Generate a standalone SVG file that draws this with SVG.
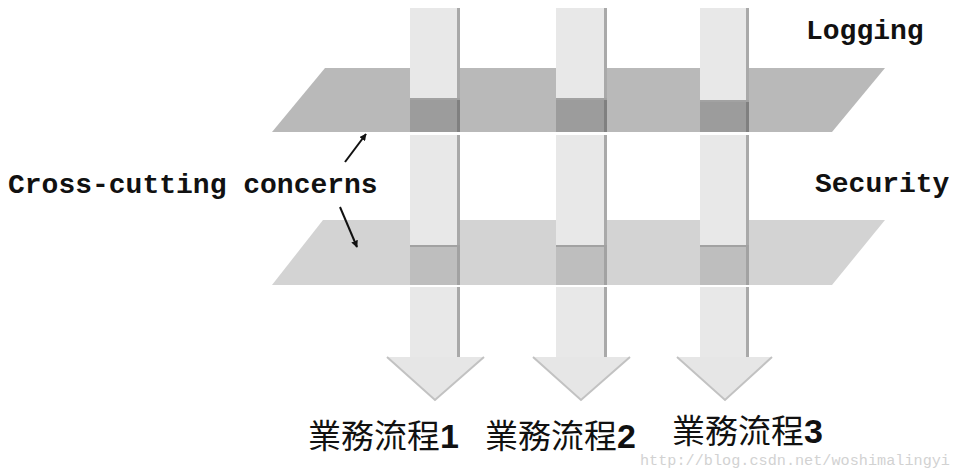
<svg xmlns="http://www.w3.org/2000/svg" width="960" height="469" viewBox="0 0 960 469">
<defs>
<style>
.plane1{fill:#b9b9b9}
.plane2{fill:#d3d3d3}
.col{fill:#e8e8e8}
.dk1{fill:#9c9c9c}
.dk2{fill:#bebebe}
.edge{fill:#a9a9a9}
.edgeD{fill:#808080}
.edgeD2{fill:#a2a2a2}
.head{fill:#e6e6e6}
.hshade{fill:none;stroke:#c2c2c2;stroke-width:2}
.mono{font-family:"Liberation Mono","Courier New",monospace;font-weight:bold;font-size:28px;fill:#111}
.cjk{font-family:"Noto Sans CJK TC","Noto Sans CJK JP",sans-serif;font-size:33px;fill:#111}
.dig{font-family:"Liberation Sans",Arial,sans-serif;font-weight:bold;font-size:34px}
.wm{font-family:"Liberation Mono","Courier New",monospace;font-size:14px;fill:#d2d2d2}
.conn{stroke:#111;stroke-width:2;fill:none}
</style>
<marker id="ah" viewBox="0 0 10 10" refX="9" refY="5" markerWidth="7" markerHeight="7" orient="auto" markerUnits="userSpaceOnUse">
<path d="M0,0 L10,5 L0,10 z" fill="#111"/>
</marker>
</defs>
<rect width="960" height="469" fill="#fff"/>

<g id="plane-logging">
<polygon class="plane1" points="325,68 885,68 832,132 272,132"/>
</g>
<g id="plane-security">
<polygon class="plane2" points="323,220 885,220 832,285 272,285"/>
</g>

<g id="flow1">
<rect class="col" x="410" y="8" width="50" height="92"/>
<rect class="edge" x="457" y="8" width="3" height="92"/>
<rect class="edgeD2" x="410" y="98" width="50" height="2"/>
<rect class="dk1" x="410" y="100" width="50" height="32"/>
<rect class="edgeD" x="457" y="100" width="3" height="32"/>
<rect class="col" x="410" y="135" width="50" height="112"/>
<rect class="edge" x="457" y="135" width="3" height="112"/>
<rect class="edgeD2" x="410" y="245" width="50" height="2"/>
<rect class="dk2" x="410" y="247" width="50" height="38"/>
<rect class="edgeD2" x="457" y="247" width="3" height="38"/>
<rect class="col" x="410" y="287" width="50" height="71"/>
<rect class="edge" x="457" y="287" width="3" height="71"/>
<polygon class="head" points="387,357 484,357 435,400"/>
<polyline class="hshade" points="387,357 435,400 484,357"/>
</g>

<g id="flow2">
<rect class="col" x="556" y="8" width="51" height="92"/>
<rect class="edge" x="604" y="8" width="3" height="92"/>
<rect class="edgeD2" x="556" y="98" width="51" height="2"/>
<rect class="dk1" x="556" y="100" width="51" height="32"/>
<rect class="edgeD" x="604" y="100" width="3" height="32"/>
<rect class="col" x="556" y="135" width="51" height="112"/>
<rect class="edge" x="604" y="135" width="3" height="112"/>
<rect class="edgeD2" x="556" y="245" width="51" height="2"/>
<rect class="dk2" x="556" y="247" width="51" height="38"/>
<rect class="edgeD2" x="604" y="247" width="3" height="38"/>
<rect class="col" x="556" y="287" width="51" height="71"/>
<rect class="edge" x="604" y="287" width="3" height="71"/>
<polygon class="head" points="533,357 630,357 581,400"/>
<polyline class="hshade" points="533,357 581,400 630,357"/>
</g>

<g id="flow3">
<rect class="col" x="700" y="8" width="49" height="94"/>
<rect class="edge" x="746" y="8" width="3" height="94"/>
<rect class="edgeD2" x="700" y="100" width="49" height="2"/>
<rect class="dk1" x="700" y="102" width="49" height="30"/>
<rect class="edgeD" x="746" y="102" width="3" height="30"/>
<rect class="col" x="700" y="135" width="49" height="112"/>
<rect class="edge" x="746" y="135" width="3" height="112"/>
<rect class="edgeD2" x="700" y="245" width="49" height="2"/>
<rect class="dk2" x="700" y="247" width="49" height="38"/>
<rect class="edgeD2" x="746" y="247" width="3" height="38"/>
<rect class="col" x="700" y="287" width="49" height="71"/>
<rect class="edge" x="746" y="287" width="3" height="71"/>
<polygon class="head" points="677,357 772,357 725,400"/>
<polyline class="hshade" points="677,357 725,400 772,357"/>
</g>

<g id="labels">
<text class="mono" x="806" y="39">Logging</text>
<text class="mono" x="815" y="192">Security</text>
<text class="wm" x="640" y="465" textLength="310" lengthAdjust="spacingAndGlyphs">http://blog.csdn.net/woshimalingyi</text>
</g>

<g id="label-cross">
<text class="mono" x="8" y="193">Cross-cutting concerns</text>
</g>

<g id="flow-labels">
<text class="cjk" x="308" y="448">業務流程<tspan class="dig">1</tspan></text>
<text class="cjk" x="485" y="448">業務流程<tspan class="dig">2</tspan></text>
<text class="cjk" x="672" y="443">業務流程<tspan class="dig">3</tspan></text>
</g>

<g id="connectors">
<line class="conn" x1="345" y1="162" x2="366" y2="134" marker-end="url(#ah)"/>
<line class="conn" x1="340" y1="207" x2="357" y2="247" marker-end="url(#ah)"/>
</g>
</svg>
